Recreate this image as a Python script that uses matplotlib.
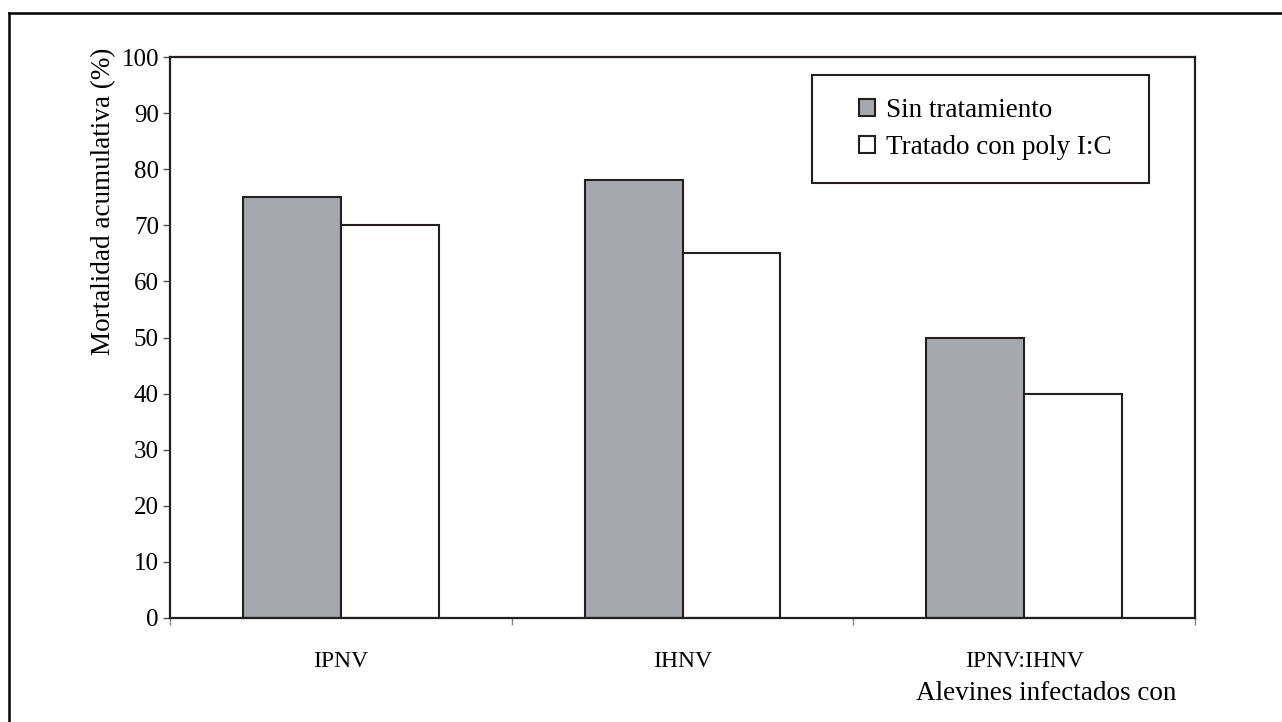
import numpy as np
import matplotlib
matplotlib.use("Agg")
import matplotlib.pyplot as plt
from matplotlib.patches import Rectangle
from matplotlib.lines import Line2D
from matplotlib.legend_handler import HandlerPatch

plt.rcParams['font.family'] = ['Liberation Serif', 'DejaVu Serif']

# datos
grupos = ['IPNV', 'IHNV', 'IPNV:IHNV']
sin_tratamiento = [75, 78, 50]
tratado_polyic = [70, 65, 40]
series = ['Sin tratamiento', 'Tratado con poly I:C']

gris = '#a7a8ab'
borde = '#231f20'

fig = plt.figure(figsize=(12.82, 7.22), dpi=100)
ax = fig.add_axes([170/1282, 104/722, 1025/1282, 561/722])

x = np.arange(len(grupos))
ancho = 0.286
ax.bar(x - ancho/2, sin_tratamiento, ancho, color=gris, edgecolor=borde,
       linewidth=1.5)
ax.bar(x + ancho/2, tratado_polyic, ancho, color='white', edgecolor=borde,
       linewidth=1.5)

ax.set_xlim(-0.5, len(grupos) - 0.5)
ax.set_ylim(0, 100)
ax.set_yticks(np.arange(0, 101, 10))
ax.tick_params(axis='y', labelsize=18, length=5, width=1, pad=3, color='#555555')

# ticks en los limites de cada grupo, etiquetas en el centro
ax.set_xticks(np.arange(-0.5, len(grupos), 1.0))
ax.set_xticklabels([])
ax.tick_params(axis='x', which='major', length=5, width=1, color='#888888')
ax.set_xticks(x, minor=True)
ax.set_xticklabels(grupos, minor=True)
ax.tick_params(axis='x', which='minor', length=0, pad=24, labelsize=17)

for s in ax.spines.values():
    s.set_linewidth(1.6)
    s.set_color(borde)

ax.set_ylabel('Mortalidad acumulativa (%)', fontsize=19.5)
ax.yaxis.set_label_coords(-0.053, 0.743)

fig.text(1046/1282, 29/722, 'Alevines infectados con', fontsize=19.5,
         ha='center', va='center')


def cuadrado(legend, orig_handle, xdescent, ydescent, width, height, fontsize):
    h = height
    return Rectangle((-xdescent + width - h, -ydescent), h, h)


handles = [Rectangle((0, 0), 1, 1, facecolor=gris, edgecolor=borde, linewidth=1.5),
           Rectangle((0, 0), 1, 1, facecolor='white', edgecolor=borde, linewidth=1.5)]
leg = ax.legend(handles, series, loc='upper left',
                bbox_to_anchor=(0.626, 0.968, 0.329, 0.0), mode='expand',
                borderaxespad=0, fontsize=19.5, frameon=True, fancybox=False,
                edgecolor=borde, handlelength=1.5, handleheight=0.55,
                handletextpad=0.4, borderpad=0.85, labelspacing=0.45,
                handler_map={Rectangle: HandlerPatch(patch_func=cuadrado)})
leg.get_frame().set_linewidth(1.5)
leg.get_frame().set_alpha(None)

# marco exterior (solo arriba e izquierda)
fig.add_artist(Line2D([9/1282, 1], [1 - 13/722, 1 - 13/722],
                      transform=fig.transFigure, color='black', linewidth=1.8))
fig.add_artist(Line2D([9/1282, 9/1282], [0, 1 - 13/722],
                      transform=fig.transFigure, color='black', linewidth=1.8))

fig.savefig('out.png', dpi=100)
